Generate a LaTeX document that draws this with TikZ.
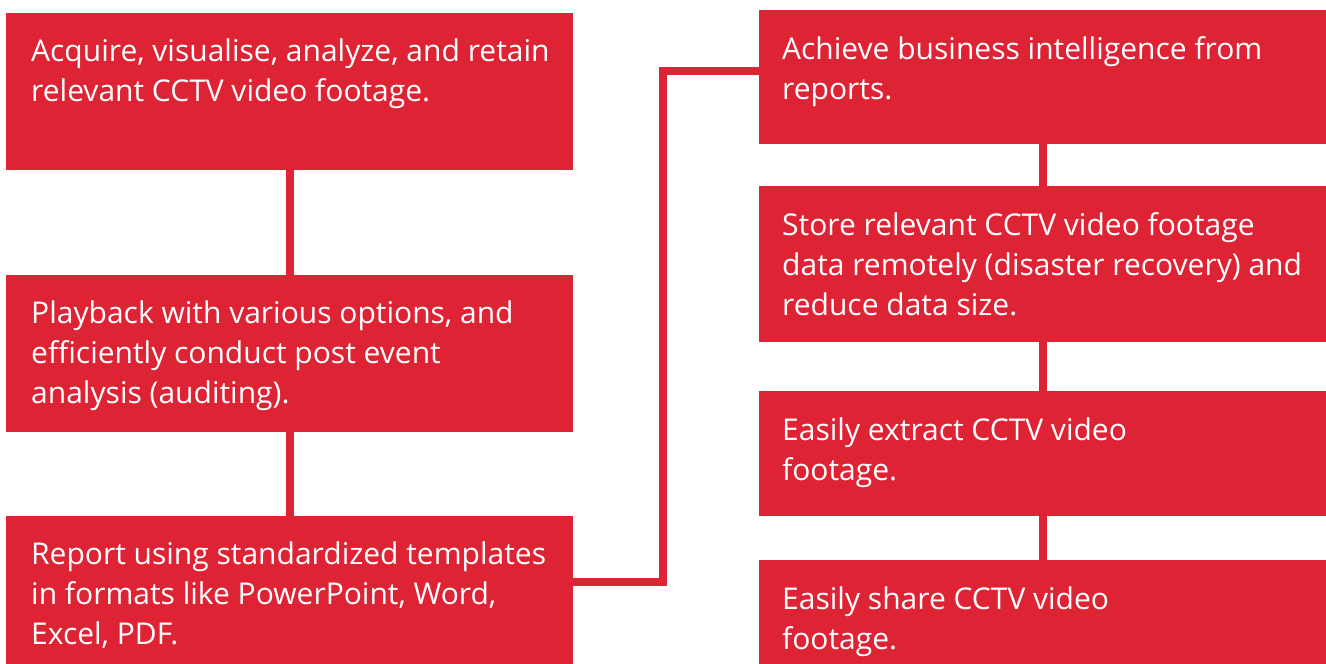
\documentclass[tikz,border=0pt]{standalone}
\usepackage{fontspec}
\setmainfont{Open Sans}
\usepackage{xcolor}
\definecolor{boxred}{RGB}{221,35,52}

\tikzset{
  box/.style={fill=boxred, anchor=north west, minimum width=567pt, inner sep=0pt},
  txt/.style={text=white, anchor=base west, align=left, inner sep=0pt,
    font=\fontsize{30}{40}\selectfont},
  link/.style={draw=boxred, line width=8pt, line join=miter}
}

\begin{document}
\begin{tikzpicture}[x=1pt,y=-1pt]
\useasboundingbox (0,0) rectangle (1326,664);

% left column
\node[box, minimum height=157pt] (acq) at (6,13) {};
\node[txt] (acqtxt) at ([shift={(25pt,-88pt)}]acq.north west)
  {Acquire, visualise, analyze, and retain\\relevant CCTV video footage.};

\node[box, minimum height=157pt] (play) at (6,275) {};
\node[txt] (playtxt) at ([shift={(25pt,-128pt)}]play.north west)
  {Playback with various options, and\\efficiently conduct post event\\analysis (auditing).};

\node[box, minimum height=148pt] (rep) at (6,516) {};
\node[txt] (reptxt) at ([shift={(25pt,-128pt)}]rep.north west)
  {Report using standardized templates\\in formats like PowerPoint, Word,\\Excel, PDF.};

% right column
\node[box, minimum height=134pt] (ach) at (759,10) {};
\node[txt] (achtxt) at ([shift={(23pt,-89pt)}]ach.north west)
  {Achieve business intelligence from\\reports.};

\node[box, minimum height=156pt] (store) at (759,186) {};
\node[txt] (storetxt) at ([shift={(23pt,-129pt)}]store.north west)
  {Store relevant CCTV video footage\\data remotely (disaster recovery) and\\reduce data size.};

\node[box, minimum height=125pt] (extr) at (759,391) {};
\node[txt] (extrtxt) at ([shift={(23pt,-89pt)}]extr.north west)
  {Easily extract CCTV video\\footage.};

\node[box, minimum height=104pt] (share) at (759,560) {};
\node[txt] (sharetxt) at ([shift={(23pt,-89pt)}]share.north west)
  {Easily share CCTV video\\footage.};

% connectors
\draw[link] (acq.south) -- (play.north);
\draw[link] (play.south) -- (rep.north);
\draw[link] ([yshift=8pt]rep.east) -- ++(90,0) |- ([yshift=6pt]ach.west);
\draw[link] (ach.south) -- (store.north);
\draw[link] (store.south) -- (extr.north);
\draw[link] (extr.south) -- (share.north);

\end{tikzpicture}
\end{document}
